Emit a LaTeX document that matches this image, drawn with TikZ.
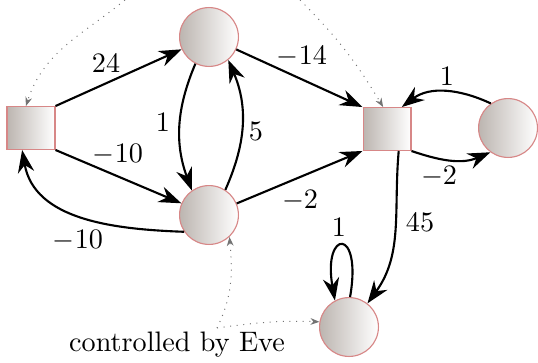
\documentclass[tikz,border=0pt]{standalone}
\usetikzlibrary{arrows.meta}
\definecolor{nodeleft}{RGB}{188,181,176}
\definecolor{nodeborder}{RGB}{215,135,135}
\begin{document}
\begin{tikzpicture}[x=0.355pt,y=0.355pt,
  state/.style={circle, minimum size=20.9pt, inner sep=0pt, draw=nodeborder, line width=0.4pt, left color=nodeleft, right color=white},
  player/.style={rectangle, minimum width=17pt, minimum height=15.2pt, inner sep=0pt, draw=nodeborder, line width=0.4pt, left color=nodeleft, right color=white},
  arc/.style={line width=0.75pt, -{Stealth[length=8pt,width=5.8pt,inset=2.6pt]}},
  ctrl/.style={draw=black!55, line width=0.35pt, dotted, -{Stealth[length=3.2pt,width=2.4pt]}},
  lbl/.style={inner sep=0pt}]
\useasboundingbox (0,0) rectangle (538,362);
% nodes
\node[player] (L) at (31,234) {};
\node[state] (T) at (209,325) {};
\node[state] (M) at (209,147) {};
\node[player] (R) at (387,233) {};
\node[state] (FR) at (508,234) {};
\node[state] (B) at (349,35) {};
\node[lbl] (eve) at (177,17) {controlled by Eve};
\coordinate (evep) at (217,34);
\coordinate (a1) at (125,362);
\coordinate (a2) at (300,362);
% edges
\draw[arc] (L.north east) -- (T);
\draw[arc] (T) -- (R.north west);
\draw[arc] (L.south east) -- (M);
\draw[arc] (M) -- (R.south west);
\draw[arc] (T.243) to[out=247,in=110] (M.125);
\draw[arc] (M.57) to[out=66,in=-67] (T.-50);
\draw[arc] (M.214) to[out=178,in=-80] (L.248);
\draw[arc] (R.south east) to[out=-19,in=203] (FR.234);
\draw[arc] (FR.125) to[out=155,in=37] (R.56);
\draw[arc] (R.-62) to[out=265,in=54] (B.52);
\draw[arc] (B.88) .. controls +(80:72) and +(100:72) .. (B.118);
% labels
\node[lbl] (l24) at (106,299) {$24$};
\node[lbl] (l14) at (302,305) {$-14$};
\node[lbl] (l1a) at (447,286) {$1$};
\node[lbl] (l1b) at (163,240) {$1$};
\node[lbl] (l5) at (256,231) {$5$};
\node[lbl] (l10a) at (118,207) {$-10$};
\node[lbl] (l10b) at (78,121) {$-10$};
\node[lbl] (l2a) at (300,161) {$-2$};
\node[lbl] (l2b) at (439,185) {$-2$};
\node[lbl] (l45) at (420,140) {$45$};
\node[lbl] (l1c) at (339,135) {$1$};
% control connectors
\draw[ctrl] (evep) to[out=64,in=-85] (M.-47);
\draw[ctrl] (evep) to[out=8,in=178] (B.170);
\draw[ctrl] (a1) to[out=219,in=72] (L.103);
\draw[ctrl] (a2) to[out=-45,in=121] (R.100);
\end{tikzpicture}
\end{document}
